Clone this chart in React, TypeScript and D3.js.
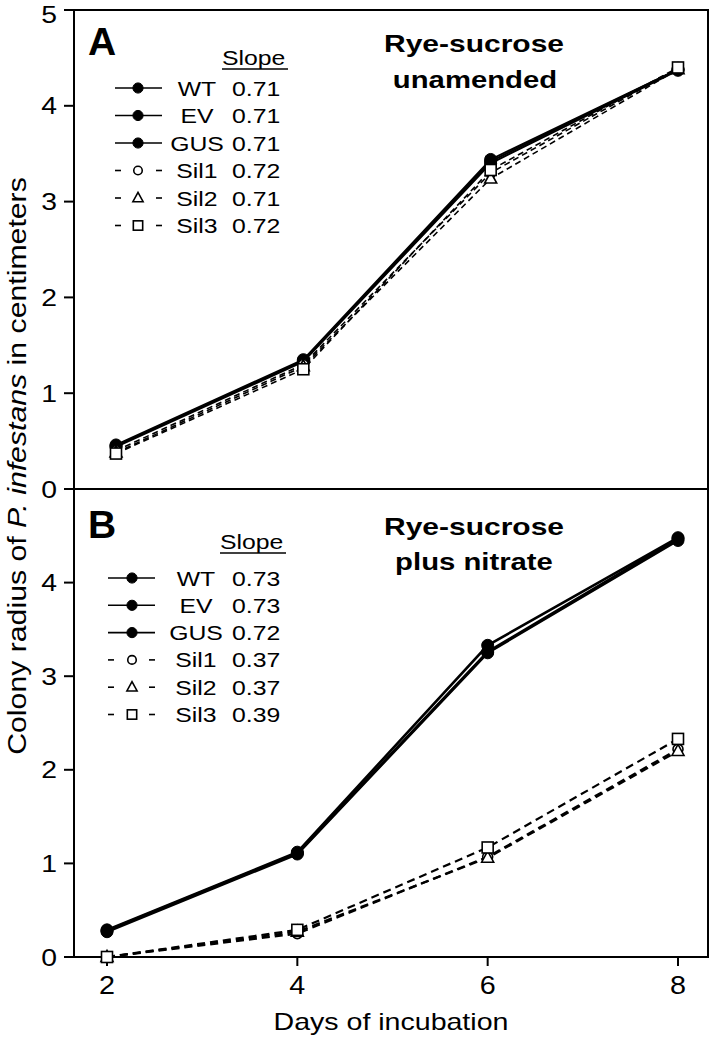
import React from "react";
import * as d3 from "d3";

const days = [2, 4, 6, 8];
const seriesNames = ["WT", "EV", "GUS", "Sil1", "Sil2", "Sil3"];
const markerKinds = ["fcircle", "fcircle", "fcircle", "ocircle", "triangle", "square"];

const aWT = [0.46, 1.35, 3.44, 4.38];
const aEV = [0.45, 1.34, 3.42, 4.38];
const aGUS = [0.44, 1.33, 3.4, 4.37];
const aSil1 = [0.4, 1.3, 3.3, 4.39];
const aSil2 = [0.38, 1.28, 3.24, 4.38];
const aSil3 = [0.37, 1.25, 3.33, 4.4];
const aSlopes = ["0.71", "0.71", "0.71", "0.72", "0.71", "0.72"];

const bWT = [0.29, 1.12, 3.33, 4.48];
const bEV = [0.28, 1.11, 3.26, 4.47];
const bGUS = [0.27, 1.1, 3.25, 4.45];
const bSil1 = [0.0, 0.25, 1.07, 2.22];
const bSil2 = [0.0, 0.27, 1.06, 2.2];
const bSil3 = [0.0, 0.29, 1.17, 2.33];
const bSlopes = ["0.73", "0.73", "0.72", "0.37", "0.37", "0.39"];

const yTicksA = [0, 1, 2, 3, 4, 5];
const yTicksB = [0, 1, 2, 3, 4];
const xTicks = [2, 4, 6, 8];

const FONT = "'Liberation Sans', Arial, Helvetica, sans-serif";

const T = ({ x, y, size, sx = 1.18, anchor = "start", weight = "normal", rotate = 0, children }: any) => (
  <g transform={`translate(${x},${y}) rotate(${rotate}) scale(${sx},1)`}>
    <text x={0} y={0} fontSize={size} fontFamily={FONT} textAnchor={anchor} fontWeight={weight} fill="#000">
      {children}
    </text>
  </g>
);

const Marker = ({ kind, cx, cy, s = 1 }: any) => {
  if (kind === "fcircle") return <circle cx={cx} cy={cy} r={6 * s} fill="#000" stroke="#000" strokeWidth={1} />;
  if (kind === "ocircle") return <circle cx={cx} cy={cy} r={5 * s} fill="#fff" stroke="#000" strokeWidth={1.6} />;
  if (kind === "triangle") {
    const h = 11 * s;
    const w = 12 * s;
    return (
      <path
        d={`M${cx},${cy - h * 0.6} L${cx + w / 2},${cy + h * 0.4} L${cx - w / 2},${cy + h * 0.4} Z`}
        fill="#fff"
        stroke="#000"
        strokeWidth={1.6}
      />
    );
  }
  const a = 11 * s;
  return <rect x={cx - a / 2} y={cy - a / 2} width={a} height={a} fill="#fff" stroke="#000" strokeWidth={1.6} />;
};

const Panel = ({ data, x, y, dash, solidW, dashW }: any) => {
  const line = d3
    .line<number>()
    .x((_, i) => x(days[i]))
    .y((v) => y(v));
  return (
    <g>
      {data.map((s: number[], k: number) => (
        <path
          key={"l" + k}
          d={line(s) || ""}
          fill="none"
          stroke="#000"
          strokeWidth={k < 3 ? solidW : dashW}
          strokeDasharray={k < 3 ? undefined : dash}
        />
      ))}
      {data.map((s: number[], k: number) =>
        s.map((v, i) => <Marker key={"m" + k + "-" + i} kind={markerKinds[k]} cx={x(days[i])} cy={y(v)} />)
      )}
    </g>
  );
};

const Legend = ({ slopes, lx0, lx1, mx, labelX, valX, row0, step, slopeX, slopeY }: any) => (
  <g>
    <T x={slopeX} y={slopeY} size={21}>Slope</T>
    <line x1={slopeX} x2={slopeX + 66} y1={slopeY + 4} y2={slopeY + 4} stroke="#000" strokeWidth={1.5} />
    {seriesNames.map((n, i) => {
      const cy = row0 + i * step;
      return (
        <g key={n}>
          {i < 3 ? (
            <line x1={lx0} x2={lx1} y1={cy} y2={cy} stroke="#000" strokeWidth={1.6} />
          ) : (
            <g>
              <line x1={lx0} x2={lx0 + 6} y1={cy} y2={cy} stroke="#000" strokeWidth={1.6} />
              <line x1={lx1 - 6} x2={lx1} y1={cy} y2={cy} stroke="#000" strokeWidth={1.6} />
            </g>
          )}
          <Marker kind={markerKinds[i]} cx={mx} cy={cy} s={0.85} />
          <T x={labelX} y={cy + 7.5} size={21} anchor="middle">{n}</T>
          <T x={valX} y={cy + 7.5} size={21}>{slopes[i]}</T>
        </g>
      );
    })}
  </g>
);

export default function App() {
  const left = 74;
  const right = 708;
  const top = 10;
  const mid = 489;
  const bottom = 957;

  const xA = d3.scaleLinear().domain([2, 8]).range([116, 678]);
  const xB = d3.scaleLinear().domain([2, 8]).range([107, 678]);
  const yA = d3.scaleLinear().domain([0, 5]).range([mid, top]);
  const yB = d3.scaleLinear().domain([0, 5]).range([bottom, mid]);

  const dataA = [aWT, aEV, aGUS, aSil1, aSil2, aSil3];
  const dataB = [bWT, bEV, bGUS, bSil1, bSil2, bSil3];

  return (
    <svg width={713} height={1038} style={{ display: "block", position: "absolute", left: 0, top: 0, background: "#fff" }}>
      <rect x={0} y={0} width={713} height={1038} fill="#fff" />
      <rect x={left} y={top} width={right - left} height={bottom - top} fill="none" stroke="#000" strokeWidth={2} />
      <line x1={left} x2={right} y1={mid} y2={mid} stroke="#000" strokeWidth={2} />

      {yTicksA.map((t) => (
        <g key={"ya" + t}>
          <line x1={left - 10} x2={left} y1={yA(t)} y2={yA(t)} stroke="#000" strokeWidth={2} />
          <T x={57} y={Math.max(yA(t) + 8.5, 23)} size={24} sx={1.18} anchor="end">{t}</T>
        </g>
      ))}
      {yTicksB.map((t) => (
        <g key={"yb" + t}>
          <line x1={left - 10} x2={left} y1={yB(t)} y2={yB(t)} stroke="#000" strokeWidth={2} />
          <T x={57} y={yB(t) + 8.5} size={24} sx={1.18} anchor="end">{t}</T>
        </g>
      ))}
      {xTicks.map((t) => (
        <g key={"x" + t}>
          <line x1={xB(t)} x2={xB(t)} y1={bottom} y2={bottom + 9} stroke="#000" strokeWidth={2} />
          <T x={xB(t)} y={994} size={25} sx={1.15} anchor="middle">{t}</T>
        </g>
      ))}

      <T x={391} y={1030} size={24} sx={1.19} anchor="middle">Days of incubation</T>
      <T x={26} y={466} size={25} sx={1.21} anchor="middle" rotate={-90}>
        Colony radius of <tspan fontStyle="italic">P. infestans</tspan> in centimeters
      </T>

      <T x={88} y={55} size={39} sx={1} weight="bold">A</T>
      <T x={474} y={52} size={24} sx={1.25} anchor="middle" weight="bold">Rye-sucrose</T>
      <T x={475} y={88} size={24} sx={1.22} anchor="middle" weight="bold">unamended</T>
      <Legend slopes={aSlopes} lx0={115} lx1={162} mx={138} labelX={197} valX={232} row0={88} step={27.5} slopeX={222} slopeY={65} />
      <Panel data={dataA} x={xA} y={yA} dash="6,4" solidW={2} dashW={1.6} />

      <T x={88} y={538} size={39} sx={1} weight="bold">B</T>
      <T x={474} y={535} size={24} sx={1.25} anchor="middle" weight="bold">Rye-sucrose</T>
      <T x={474} y={570} size={24} sx={1.22} anchor="middle" weight="bold">plus nitrate</T>
      <Legend slopes={bSlopes} lx0={108} lx1={155} mx={132} labelX={196} valX={232} row0={578} step={27.3} slopeX={220} slopeY={549} />
      <Panel data={dataB} x={xB} y={yB} dash="8,5" solidW={2.6} dashW={2.2} />
    </svg>
  );
}
